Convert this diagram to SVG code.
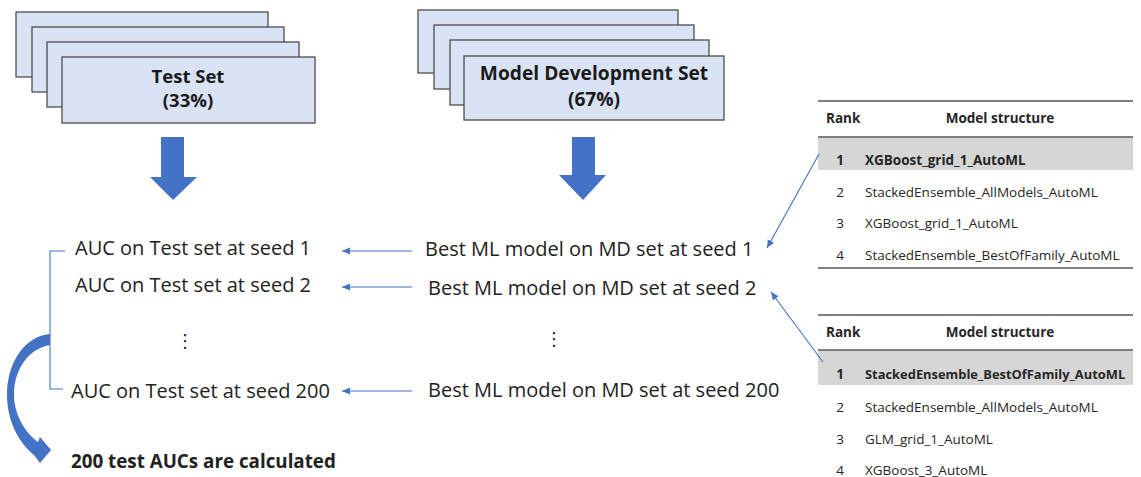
<svg xmlns="http://www.w3.org/2000/svg" width="1141" height="477" viewBox="0 0 1141 477">
<style>
.stk{fill:#dae3f3;stroke:#4d4d4d;stroke-width:1.3}
.big{fill:#4472c4}
.hd{font-family:"Open Sans","Noto Sans",sans-serif;font-weight:bold;font-size:19px;fill:#1a1a1a;text-anchor:middle}
.txt{font-family:"Open Sans","Noto Sans",sans-serif;font-size:20px;fill:#222}
.dots{font-family:"DejaVu Sans",sans-serif;font-size:18px;fill:#222;text-anchor:middle}
.tb{font-family:"Open Sans","Noto Sans",sans-serif;font-size:13.5px;fill:#262626}
.tbb{font-weight:bold}
.rule{stroke:#7f7f7f;stroke-width:2}
.hl{fill:#d6d6d6}
.con{stroke:#4472c4;stroke-width:1.1;fill:none}
</style>
<defs>
<marker id="ah" markerUnits="userSpaceOnUse" markerWidth="9" markerHeight="8" refX="8" refY="4" orient="auto">
<path d="M0,0.5 L8,4 L0,7.5 Z" fill="#4472c4"/>
</marker>
</defs>

<g id="test-set">
<rect class="stk" x="16" y="12" width="252" height="65"/>
<rect class="stk" x="32" y="27" width="252" height="65"/>
<rect class="stk" x="47" y="42" width="252" height="65"/>
<rect class="stk" x="62" y="57" width="253" height="66"/>
<text class="hd" x="188" y="83" style="font-size:18.5px">Test Set</text>
<text class="hd" x="188" y="107" style="font-size:18.5px">(33%)</text>
</g>

<g id="md-set">
<rect class="stk" x="418" y="10" width="260" height="63"/>
<rect class="stk" x="434" y="25" width="260" height="64"/>
<rect class="stk" x="450" y="40" width="259" height="65"/>
<rect class="stk" x="464" y="56" width="260" height="64"/>
<text class="hd" x="594" y="80" style="font-size:19.2px">Model Development Set</text>
<text class="hd" x="594" y="106" style="font-size:19.2px">(67%)</text>
</g>

<g id="down-arrows">
<path class="big" d="M161,137 H184 V177 H197 L173,200 L150,177 H161 Z"/>
<path class="big" d="M572,137 H595 V175 H606 L583,200 L559,175 H572 Z"/>
</g>

<g id="auc-list">
<text class="txt" x="75" y="255">AUC on Test set at seed 1</text>
<text class="txt" x="75" y="292">AUC on Test set at seed 2</text>
<text class="dots" x="185" y="347">⋮</text>
<text class="txt" x="71" y="398">AUC on Test set at seed 200</text>
</g>

<g id="best-list">
<text class="txt" x="425" y="256">Best ML model on MD set at seed 1</text>
<text class="txt" x="428" y="295">Best ML model on MD set at seed 2</text>
<text class="dots" x="554" y="345">⋮</text>
<text class="txt" x="428" y="397">Best ML model on MD set at seed 200</text>
</g>

<g id="result">
<path class="big" d="M50,334 C25,336 7,362 7,395 C7,420 18,442 34,455 L40,463 L51,450 L40,437 L38,442 C24,432 14,413 14,395 C14,368 30,348 50,345 Z"/>
<text class="txt" x="71" y="468" style="font-weight:bold;font-size:18.8px">200 test AUCs are calculated</text>
</g>

<g id="table-1">
<rect class="hl" x="818" y="138" width="315" height="32"/>
<line class="rule" x1="818" y1="101" x2="1133" y2="101"/>
<line class="rule" x1="818" y1="137" x2="1133" y2="137"/>
<line class="rule" x1="818" y1="268" x2="1133" y2="268"/>
<text class="tb tbb" x="826" y="123">Rank</text>
<text class="tb tbb" x="1000" y="123" text-anchor="middle">Model structure</text>
<text class="tb tbb" x="840" y="165" text-anchor="middle">1</text>
<text class="tb tbb" x="865" y="165">XGBoost_grid_1_AutoML</text>
<text class="tb" x="840" y="197" text-anchor="middle">2</text>
<text class="tb" x="865" y="197">StackedEnsemble_AllModels_AutoML</text>
<text class="tb" x="840" y="228" text-anchor="middle">3</text>
<text class="tb" x="865" y="228">XGBoost_grid_1_AutoML</text>
<text class="tb" x="840" y="260" text-anchor="middle">4</text>
<text class="tb" x="865" y="260">StackedEnsemble_BestOfFamily_AutoML</text>
</g>

<g id="table-2">
<rect class="hl" x="818" y="351" width="315" height="34"/>
<line class="rule" x1="818" y1="315" x2="1133" y2="315"/>
<line class="rule" x1="818" y1="350" x2="1133" y2="350"/>
<text class="tb tbb" x="826" y="337">Rank</text>
<text class="tb tbb" x="1000" y="337" text-anchor="middle">Model structure</text>
<text class="tb tbb" x="840" y="379" text-anchor="middle">1</text>
<text class="tb tbb" x="865" y="379" style="font-size:12.9px">StackedEnsemble_BestOfFamily_AutoML</text>
<text class="tb" x="840" y="412" text-anchor="middle">2</text>
<text class="tb" x="865" y="412">StackedEnsemble_AllModels_AutoML</text>
<text class="tb" x="840" y="444" text-anchor="middle">3</text>
<text class="tb" x="865" y="444">GLM_grid_1_AutoML</text>
<text class="tb" x="840" y="475" text-anchor="middle">4</text>
<text class="tb" x="865" y="475">XGBoost_3_AutoML</text>
</g>

<g id="connectors">
<path class="con" d="M65,251 H50 V389 H63"/>
<line class="con" x1="412" y1="251" x2="342" y2="251" marker-end="url(#ah)"/>
<line class="con" x1="412" y1="287" x2="342" y2="287" marker-end="url(#ah)"/>
<line class="con" x1="412" y1="391" x2="342" y2="391" marker-end="url(#ah)"/>
<line class="con" x1="819" y1="154" x2="767" y2="248" marker-end="url(#ah)"/>
<line class="con" x1="823" y1="362" x2="771" y2="292" marker-end="url(#ah)"/>
</g>
</svg>
